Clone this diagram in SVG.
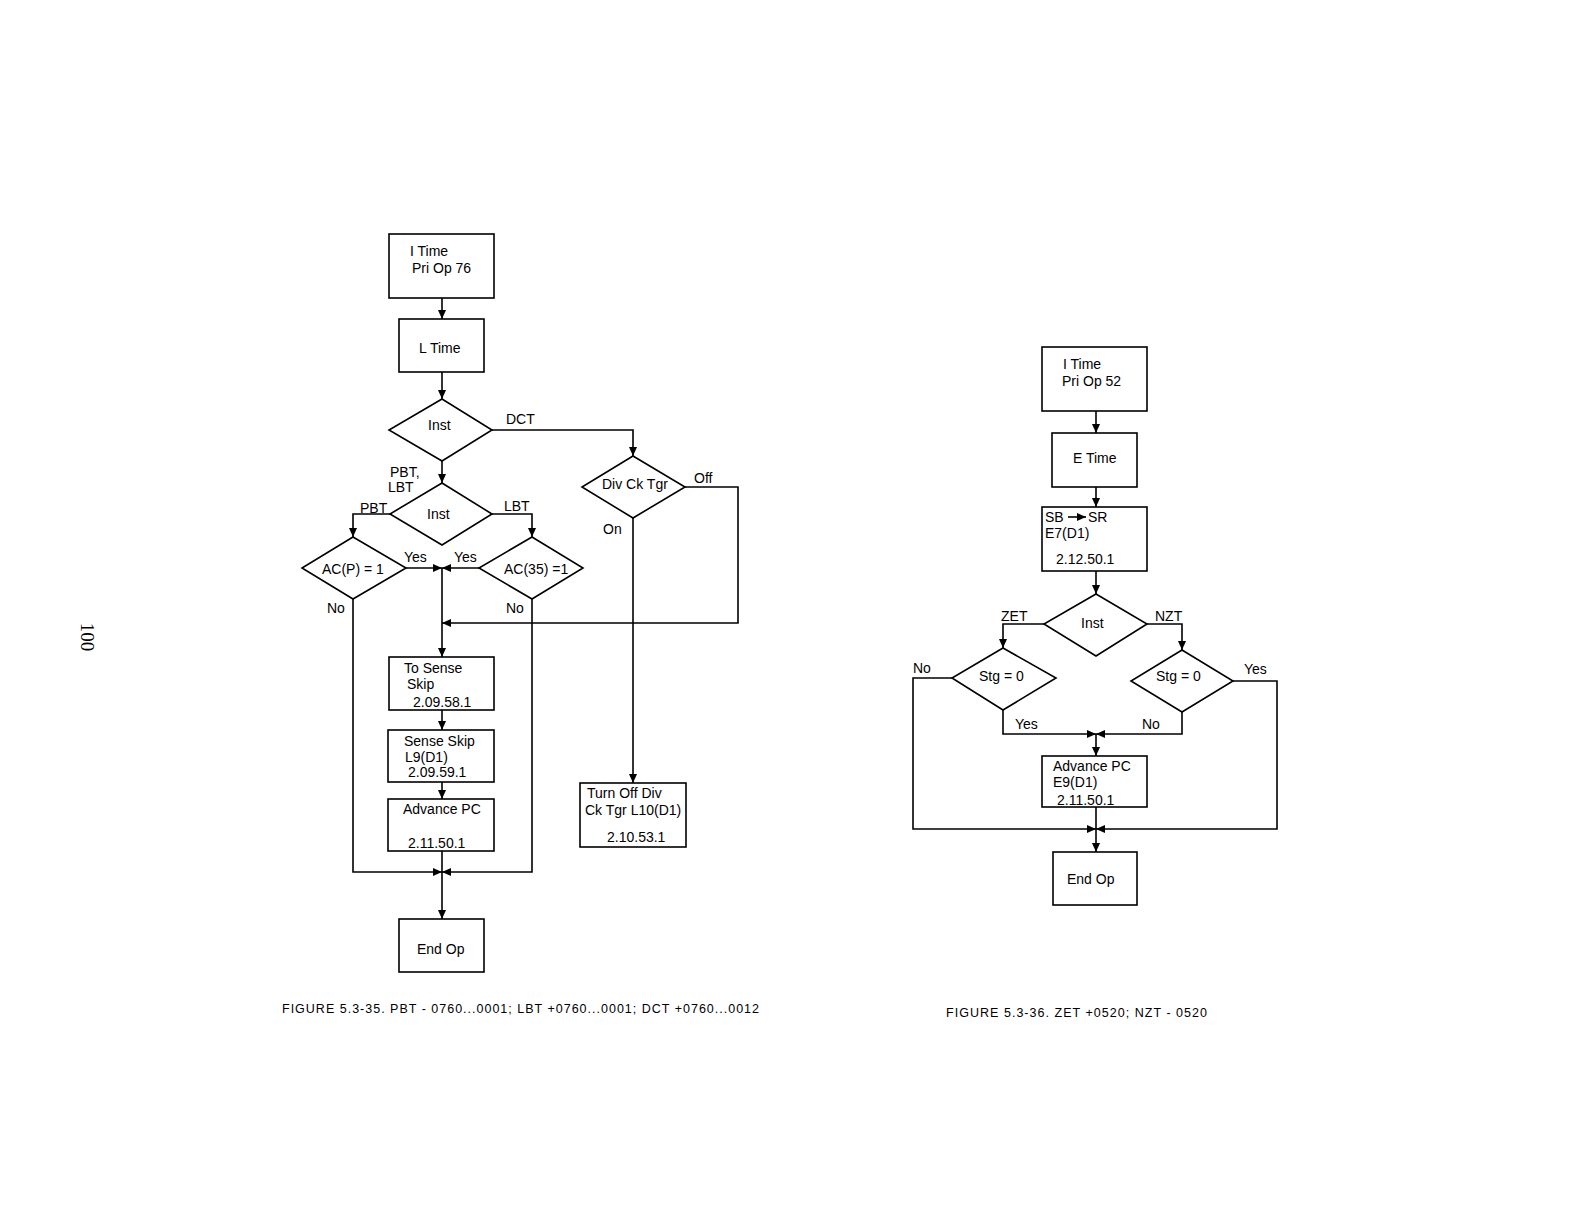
<svg xmlns="http://www.w3.org/2000/svg" width="1584" height="1224" viewBox="0 0 1584 1224">
<style>
.box{fill:#fff;stroke:#000;stroke-width:1.6}
.c{fill:none;stroke:#000;stroke-width:1.6}
text{font-family:"Liberation Sans",Arial,sans-serif;font-size:14px;fill:#000}
.cap{font-size:12.5px}
.pg{font-family:"Liberation Serif","Times New Roman",serif;font-size:19px}
</style>
<defs>
<marker id="ah" markerUnits="userSpaceOnUse" markerWidth="10" markerHeight="8" refX="9" refY="4" orient="auto">
<path d="M0,0 L9,4 L0,8 Z" fill="#000"/>
</marker>
</defs>
<rect width="1584" height="1224" fill="#fff"/>

<text class="pg" transform="translate(81,637) rotate(90)" text-anchor="middle">100</text>

<!-- Left figure nodes -->
<g id="l-itime"><rect class="box" x="389" y="234" width="105" height="64"/><text x="410" y="256">I Time</text><text x="412" y="273">Pri Op 76</text></g>
<g id="l-ltime"><rect class="box" x="399" y="319" width="85" height="53"/><text x="419" y="353">L Time</text></g>
<g id="l-inst1"><polygon class="box" points="442,399 492,430 442,461 389,430"/><text x="428" y="430">Inst</text></g>
<g id="l-inst2"><polygon class="box" points="442,483 492,514 442,545 390,514"/><text x="427" y="519">Inst</text></g>
<g id="l-acp"><polygon class="box" points="353,537 406,568 353,599 302,568"/><text x="322" y="574">AC(P) = 1</text></g>
<g id="l-ac35"><polygon class="box" points="532,537 583,568 532,599 479,568"/><text x="504" y="574">AC(35) =1</text></g>
<g id="l-divck"><polygon class="box" points="633,456 685,487 633,518 582,487"/><text x="602" y="489">Div Ck Tgr</text></g>
<g id="l-tosense"><rect class="box" x="389" y="657" width="105" height="53"/><text x="404" y="673">To Sense</text><text x="407" y="689">Skip</text><text x="413" y="707">2.09.58.1</text></g>
<g id="l-senseskip"><rect class="box" x="388" y="730" width="106" height="52"/><text x="404" y="746">Sense Skip</text><text x="405" y="762">L9(D1)</text><text x="408" y="777">2.09.59.1</text></g>
<g id="l-advpc"><rect class="box" x="388" y="799" width="106" height="52"/><text x="403" y="814">Advance PC</text><text x="408" y="848">2.11.50.1</text></g>
<g id="l-turnoff"><rect class="box" x="580" y="783" width="106" height="64"/><text x="587" y="798">Turn Off Div</text><text x="585" y="815">Ck Tgr L10(D1)</text><text x="607" y="842">2.10.53.1</text></g>
<g id="l-endop"><rect class="box" x="399" y="919" width="85" height="53"/><text x="417" y="954">End Op</text></g>

<!-- Left figure connectors -->
<g id="l-connectors">
<path class="c" d="M442,298 V319" marker-end="url(#ah)"/>
<path class="c" d="M442,372 V399" marker-end="url(#ah)"/>
<path class="c" d="M442,461 V483" marker-end="url(#ah)"/>
<path class="c" d="M492,430 H633 V456" marker-end="url(#ah)"/>
<path class="c" d="M390,514 H353 V537" marker-end="url(#ah)"/>
<path class="c" d="M492,514 H532 V537" marker-end="url(#ah)"/>
<path class="c" d="M406,568 H442" marker-end="url(#ah)"/>
<path class="c" d="M479,568 H442" marker-end="url(#ah)"/>
<path class="c" d="M442,568 V657" marker-end="url(#ah)"/>
<path class="c" d="M685,487 H738 V623 H442" marker-end="url(#ah)"/>
<path class="c" d="M633,518 V783" marker-end="url(#ah)"/>
<path class="c" d="M442,710 V730" marker-end="url(#ah)"/>
<path class="c" d="M442,782 V799" marker-end="url(#ah)"/>
<path class="c" d="M353,599 V872 H442" marker-end="url(#ah)"/>
<path class="c" d="M532,599 V872 H442" marker-end="url(#ah)"/>
<path class="c" d="M442,851 V919" marker-end="url(#ah)"/>
<text x="506" y="424">DCT</text>
<text x="390" y="477">PBT,</text>
<text x="388" y="492">LBT</text>
<text x="360" y="513">PBT</text>
<text x="504" y="511">LBT</text>
<text x="694" y="483">Off</text>
<text x="603" y="534">On</text>
<text x="404" y="562">Yes</text>
<text x="454" y="562">Yes</text>
<text x="327" y="613">No</text>
<text x="506" y="613">No</text>
</g>

<text class="cap" x="282" y="1013" textLength="477" lengthAdjust="spacing">FIGURE 5.3-35.  PBT - 0760...0001; LBT +0760...0001; DCT +0760...0012</text>

<!-- Right figure nodes -->
<g id="r-itime"><rect class="box" x="1042" y="347" width="105" height="64"/><text x="1063" y="369">I Time</text><text x="1062" y="386">Pri Op 52</text></g>
<g id="r-etime"><rect class="box" x="1052" y="433" width="85" height="54"/><text x="1073" y="463">E Time</text></g>
<g id="r-sbsr"><rect class="box" x="1042" y="507" width="105" height="64"/><text x="1045" y="522">SB</text><path class="c" d="M1068,517 H1086" stroke-width="1.3" marker-end="url(#ah)"/><text x="1088" y="522">SR</text><text x="1045" y="538">E7(D1)</text><text x="1056" y="564">2.12.50.1</text></g>
<g id="r-inst"><polygon class="box" points="1096,594 1147,624 1096,656 1044,624"/><text x="1081" y="628">Inst</text></g>
<g id="r-stg1"><polygon class="box" points="1003,648 1056,678 1003,710 952,678"/><text x="979" y="681">Stg = 0</text></g>
<g id="r-stg2"><polygon class="box" points="1182,650 1233,681 1182,712 1131,681"/><text x="1156" y="681">Stg = 0</text></g>
<g id="r-advpc"><rect class="box" x="1042" y="756" width="105" height="51"/><text x="1053" y="771">Advance PC</text><text x="1053" y="787">E9(D1)</text><text x="1057" y="805">2.11.50.1</text></g>
<g id="r-endop"><rect class="box" x="1053" y="852" width="84" height="53"/><text x="1067" y="884">End Op</text></g>

<!-- Right figure connectors -->
<g id="r-connectors">
<path class="c" d="M1096,411 V433" marker-end="url(#ah)"/>
<path class="c" d="M1096,487 V507" marker-end="url(#ah)"/>
<path class="c" d="M1096,571 V594" marker-end="url(#ah)"/>
<path class="c" d="M1044,624 H1003 V648" marker-end="url(#ah)"/>
<path class="c" d="M1147,624 H1182 V650" marker-end="url(#ah)"/>
<path class="c" d="M1003,710 V734 H1096" marker-end="url(#ah)"/>
<path class="c" d="M1182,712 V734 H1096" marker-end="url(#ah)"/>
<path class="c" d="M1096,734 V756" marker-end="url(#ah)"/>
<path class="c" d="M1096,807 V852" marker-end="url(#ah)"/>
<path class="c" d="M952,678 H913 V829 H1096" marker-end="url(#ah)"/>
<path class="c" d="M1233,681 H1277 V829 H1096" marker-end="url(#ah)"/>
<text x="1001" y="621">ZET</text>
<text x="1155" y="621">NZT</text>
<text x="913" y="673">No</text>
<text x="1244" y="674">Yes</text>
<text x="1015" y="729">Yes</text>
<text x="1142" y="729">No</text>
</g>

<text class="cap" x="946" y="1017" textLength="261" lengthAdjust="spacing">FIGURE 5.3-36.  ZET +0520; NZT - 0520</text>
</svg>
